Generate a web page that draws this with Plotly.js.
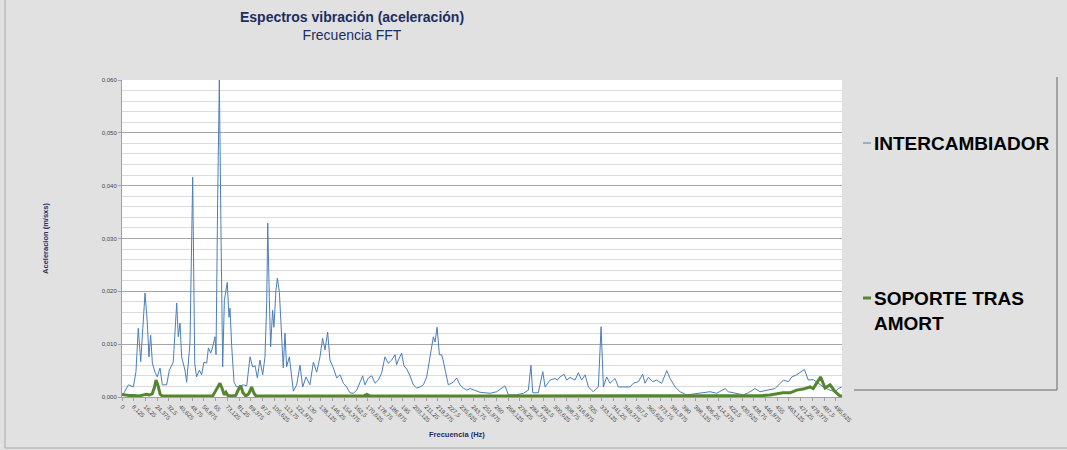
<!DOCTYPE html>
<html>
<head>
<meta charset="utf-8">
<script src="https://cdn.plot.ly/plotly-3.0.1.min.js"></script>
<style>html,body{margin:0;padding:0;background:#e1e1e1;}#chart{width:1067px;height:450px;}</style>
</head>
<body>
<div id="chart"></div>
<script>
// Frequency (Hz) and acceleration values
const freqInter = [
0, 1.4, 4.4, 7.9, 9.7, 11.3, 13.0, 14.3, 16.0, 17.6,
18.7, 19.9, 21.1, 22.9, 24.5, 26.4, 28.0, 31.0, 32.9, 35.6,
38.0, 39.1, 40.3, 41.4, 43.7, 44.9, 47.2, 49.1, 50.5, 51.8,
53.7, 55.3, 56.9, 58.8, 60.0, 61.6, 63.0, 64.6, 65.3, 66.4,
67.6, 68.8, 69.9, 71.1, 73.1, 74.3, 75.0, 76.2, 77.8, 79.6,
81.9, 84.3, 86.6, 88.9, 90.7, 92.4, 94.0, 95.8, 97.7, 99.3,
100.5, 101.2, 102.3, 103.2, 104.6, 105.5, 106.9, 107.9, 109.3, 110.9,
112.0, 113.2, 114.3, 116.2, 117.8, 119.0, 121.3, 123.6, 125.5, 127.8,
130.5, 132.9, 135.2, 137.5, 139.3, 141.0, 142.8, 144.4, 146.8, 149.1,
151.4, 153.7, 156.0, 158.3, 160.6, 163.0, 165.3, 167.1, 168.7, 171.1,
173.4, 175.7, 178.0, 180.3, 182.6, 184.9, 187.3, 189.6, 190.7, 191.9,
194.2, 195.8, 197.7, 200.0, 202.3, 204.6, 207.0, 209.3, 211.6, 213.4,
215.0, 216.2, 217.4, 218.8, 220.4, 222.0, 223.1, 224.3, 226.6, 230.1,
232.4, 234.7, 237.0, 239.4, 241.7, 248.6, 255.6, 260.2, 266.0, 268.3,
274.1, 278.7, 282.2, 284.0, 285.2, 289.1, 292.2, 293.8, 297.3, 300.7,
302.3, 304.2, 307.0, 308.8, 311.1, 314.6, 316.9, 319.2, 321.6, 323.9,
327.3, 330.8, 332.7, 334.3, 336.6, 338.9, 342.4, 344.7, 350.5, 352.8,
355.1, 358.6, 361.6, 363.2, 365.5, 368.6, 371.3, 374.8, 378.3, 380.6,
384.1, 387.5, 392.1, 399.1, 403.7, 408.4, 413.0, 418.8, 421.1, 426.9,
431.5, 435.0, 439.6, 443.1, 448.9, 453.5, 459.3, 462.8, 465.1, 468.5,
473.9, 476.6, 480.1, 483.6, 487.0, 491.7, 495.2, 497.5, 499.8
];
const accInter = [
0.0003, 0.0008, 0.0023, 0.0019, 0.0048, 0.0130, 0.0067, 0.0121, 0.0197, 0.0140,
0.0076, 0.0117, 0.0064, 0.0047, 0.0038, 0.0055, 0.0023, 0.0023, 0.0051, 0.0066,
0.0178, 0.0114, 0.0140, 0.0076, 0.0051, 0.0028, 0.0102, 0.0416, 0.0064, 0.0038,
0.0051, 0.0042, 0.0066, 0.0064, 0.0093, 0.0083, 0.0095, 0.0114, 0.0080, 0.0367,
0.0600, 0.0302, 0.0057, 0.0183, 0.0217, 0.0151, 0.0168, 0.0095, 0.0028, 0.0019,
0.0021, 0.0023, 0.0021, 0.0076, 0.0057, 0.0059, 0.0036, 0.0070, 0.0042, 0.0076,
0.0178, 0.0329, 0.0189, 0.0095, 0.0164, 0.0132, 0.0202, 0.0225, 0.0198, 0.0102,
0.0055, 0.0121, 0.0057, 0.0076, 0.0032, 0.0011, 0.0023, 0.0060, 0.0019, 0.0038,
0.0023, 0.0066, 0.0047, 0.0076, 0.0111, 0.0089, 0.0123, 0.0070, 0.0055, 0.0036,
0.0042, 0.0026, 0.0019, 0.0008, 0.0007, 0.0013, 0.0028, 0.0040, 0.0023, 0.0036,
0.0040, 0.0026, 0.0032, 0.0045, 0.0076, 0.0064, 0.0070, 0.0080, 0.0061, 0.0070,
0.0083, 0.0059, 0.0053, 0.0040, 0.0023, 0.0017, 0.0019, 0.0023, 0.0038, 0.0066,
0.0089, 0.0114, 0.0104, 0.0132, 0.0080, 0.0080, 0.0068, 0.0053, 0.0023, 0.0028,
0.0036, 0.0023, 0.0017, 0.0013, 0.0016, 0.0009, 0.0007, 0.0010, 0.0021, 0.0004,
0.0004, 0.0007, 0.0013, 0.0060, 0.0008, 0.0008, 0.0048, 0.0019, 0.0032, 0.0035,
0.0032, 0.0038, 0.0043, 0.0032, 0.0037, 0.0032, 0.0046, 0.0032, 0.0042, 0.0019,
0.0010, 0.0019, 0.0133, 0.0019, 0.0038, 0.0026, 0.0035, 0.0019, 0.0018, 0.0019,
0.0026, 0.0029, 0.0043, 0.0026, 0.0037, 0.0029, 0.0032, 0.0026, 0.0050, 0.0035,
0.0019, 0.0010, 0.0004, 0.0006, 0.0008, 0.0010, 0.0007, 0.0016, 0.0010, 0.0007,
0.0004, 0.0008, 0.0016, 0.0010, 0.0013, 0.0016, 0.0032, 0.0029, 0.0038, 0.0042,
0.0052, 0.0032, 0.0033, 0.0026, 0.0019, 0.0013, 0.0010, 0.0016, 0.0019
];
const freqSoporte = [
0, 2, 5, 8, 12, 15, 17, 19, 21, 22.5,
23.6, 25, 26.5, 28, 40, 55, 63, 65.3, 67, 68,
69.5, 71, 72.2, 73.5, 76, 79, 81, 82.5, 84, 86,
88, 90, 91.5, 93, 120, 168, 170, 172, 250, 350,
440, 445, 450, 455, 459, 464, 468.5, 473, 477.8, 480,
482.4, 485.2, 488.2, 491.7, 495.2, 498.6, 500
];
const accSoporte = [
0.0005, 0.0004, 0.0003, 0.0003, 0.0002, 0.0004, 0.0005, 0.0004, 0.0006, 0.0018,
0.0032, 0.0022, 0.0005, 0.0002, 0.0002, 0.0002, 0.0002, 0.0013, 0.0022, 0.0026,
0.0016, 0.0004, 0.0009, 0.0003, 0.0002, 0.0003, 0.0015, 0.0021, 0.0008, 0.0002,
0.0006, 0.0019, 0.0008, 0.0002, 0.0002, 0.0002, 0.0005, 0.0002, 0.0002, 0.0002,
0.0003, 0.0003, 0.0004, 0.0006, 0.0008, 0.0008, 0.0013, 0.0015, 0.0019, 0.0016,
0.0026, 0.0038, 0.0017, 0.0023, 0.0010, 0.0002, 0.0002
];
const seriesNames = ['INTERCAMBIADOR', 'SOPORTE TRAS<br>AMORT'];
const seriesColors = ['#4a7ebb', '#55862f'];
const xTickStep = 8.125;
const xTickCount = 62;
const yTickVals = [0, 0.01, 0.02, 0.03, 0.04, 0.05, 0.06];

const xTickVals = [];
for (let i = 0; i < xTickCount; i++) xTickVals.push(+(i * xTickStep).toFixed(3));
const xTickText = xTickVals.map(v => String(v).replace('.', ','));

const navy = '#1c2d63';
const traces = [
  {x: freqInter, y: accInter, type: 'scatter', mode: 'lines', name: seriesNames[0],
   line: {color: seriesColors[0], width: 1}, showlegend: false},
  {x: freqSoporte, y: accSoporte, type: 'scatter', mode: 'lines', name: seriesNames[1],
   line: {color: seriesColors[1], width: 3}, showlegend: false}
];

// plot area: x 122..842 px, y 80..397 px
const px = p => (p - 122) / 720;
const py = p => (397 - p) / 317;

const layout = {
  width: 1067, height: 450,
  margin: {l: 122, r: 225, t: 80, b: 53},
  paper_bgcolor: '#e1e1e1', plot_bgcolor: '#ffffff',
  separators: ',.',
  font: {family: 'Liberation Sans, Arial, sans-serif', color: '#333'},
  title: {
    text: '<b>Espectros vibración (aceleración)</b><br>Frecuencia FFT',
    font: {size: 14, color: navy, family: 'Liberation Sans, Arial, sans-serif'},
    xref: 'container', yref: 'container', x: 352 / 1067, xanchor: 'center',
    y: 1 - 22 / 450, yanchor: 'top'
  },
  xaxis: {
    range: [0, 500], tickmode: 'array', tickvals: xTickVals, ticktext: xTickText,
    tickangle: 45, tickfont: {size: 6, color: '#444'},
    showgrid: false, zeroline: false, showline: true, linecolor: '#a0a0a0',
    ticks: 'outside', ticklen: 3, tickcolor: '#a0a0a0'
  },
  yaxis: {
    range: [0, 0.06], tickmode: 'array', tickvals: yTickVals, tickformat: '.3f',
    tickfont: {size: 6, color: '#444'},
    showgrid: true, gridcolor: '#a6a6a6', gridwidth: 1,
    minor: {dtick: 0.002, showgrid: true, gridcolor: '#dcdcdc', gridwidth: 1},
    zeroline: false, showline: true, linecolor: '#a0a0a0',
    ticks: 'outside', ticklen: 3, tickcolor: '#a0a0a0',
    title: {text: '<b>Aceleracion (m/sxs)</b>', font: {size: 7.5, color: navy}, standoff: 52}
  },
  annotations: [
    {xref: 'paper', yref: 'paper', x: px(457), y: py(434), text: '<b>Frecuencia (Hz)</b>',
     showarrow: false, font: {size: 7.5, color: navy}, xanchor: 'center', yanchor: 'middle'},
    {xref: 'paper', yref: 'paper', x: px(872), y: py(143), text: '<b>INTERCAMBIADOR</b>',
     showarrow: false, font: {size: 19, color: '#000'}, xanchor: 'left', yanchor: 'middle'},
    {xref: 'paper', yref: 'paper', x: px(872), y: py(311), text: '<b>SOPORTE TRAS<br>AMORT</b>',
     showarrow: false, font: {size: 19, color: '#000'}, xanchor: 'left', yanchor: 'middle', align: 'left'}
  ],
  shapes: [
    {type: 'line', xref: 'paper', yref: 'paper', x0: px(863), x1: px(871), y0: py(143), y1: py(143),
     line: {color: seriesColors[0], width: 1}},
    {type: 'line', xref: 'paper', yref: 'paper', x0: px(863), x1: px(871), y0: py(298), y1: py(298),
     line: {color: seriesColors[1], width: 3}},
    {type: 'line', xref: 'paper', yref: 'paper', x0: px(1057), x1: px(1057), y0: py(77), y1: py(390),
     line: {color: '#666', width: 1}},
    {type: 'line', xref: 'paper', yref: 'paper', x0: px(854), x1: px(1057), y0: py(390), y1: py(390),
     line: {color: '#666', width: 1}},
    {type: 'line', xref: 'paper', yref: 'paper', x0: px(5), x1: px(5), y0: py(448), y1: py(0),
     line: {color: '#a8a8a8', width: 1}},
    {type: 'line', xref: 'paper', yref: 'paper', x0: px(5), x1: px(1067), y0: py(448), y1: py(448),
     line: {color: '#a8a8a8', width: 1}}
  ]
};

Plotly.newPlot('chart', traces, layout, {displayModeBar: false, staticPlot: true});
</script>
</body>
</html>
